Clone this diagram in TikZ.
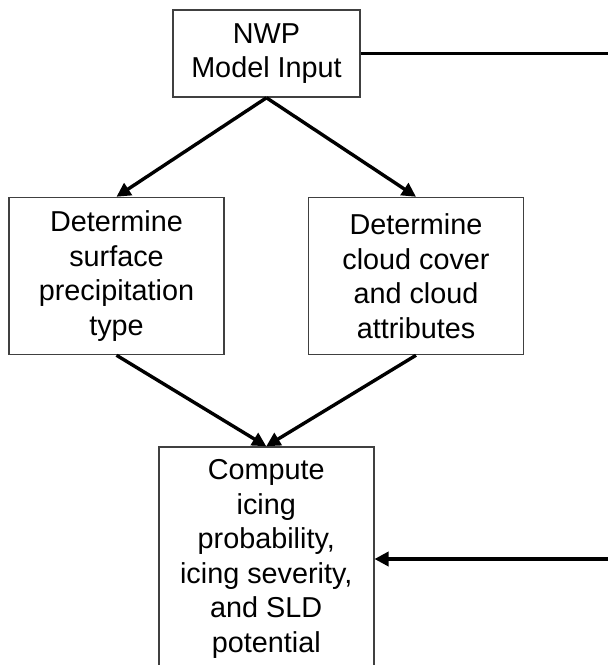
\documentclass[tikz,border=0pt]{standalone}
\usepackage{fontspec}
\setmainfont{Liberation Sans}
\usepackage{tikz}
\usetikzlibrary{arrows.meta,positioning,calc}
\tikzset{
  box/.style={draw=black!75, fill=white, line width=0.75pt, align=center, inner sep=2pt, font=\fontsize{14.4}{17.25}\selectfont},
  smallbox/.style={box, minimum width=93.5pt, minimum height=43.5pt},
  widebox/.style={box, minimum width=107.5pt, minimum height=78.5pt},
  arrow/.style={-{Triangle[length=7pt,width=7pt]}, line width=1.7pt}
}
\begin{document}
\begin{tikzpicture}
\useasboundingbox (0,0) rectangle (304pt,-332.5pt);
\node[smallbox] (nwp) at (133.25pt,-26.75pt) {NWP\\Model Input};
\node[widebox, below=49.5pt of nwp, xshift=-75pt] (prc) {Determine\\surface\\precipitation\\type};
\node[widebox, right=41.5pt of prc] (cld) {Determine\\cloud cover\\and cloud\\attributes};
\node[widebox, minimum height=112pt, below=45.5pt of {$(prc.south)!0.5!(cld.south)$}] (cmp) {Compute\\icing\\probability,\\icing severity,\\and SLD\\potential};
\coordinate (rt) at (305pt,-26.75pt);
\draw[arrow] (nwp.south) -- (prc.north);
\draw[arrow] (nwp.south) -- (cld.north);
\draw[arrow] (prc.south) -- (cmp.north);
\draw[arrow] (cld.south) -- (cmp.north);
\draw[arrow] (nwp.east) -- (rt) |- (cmp.east);
\end{tikzpicture}
\end{document}
